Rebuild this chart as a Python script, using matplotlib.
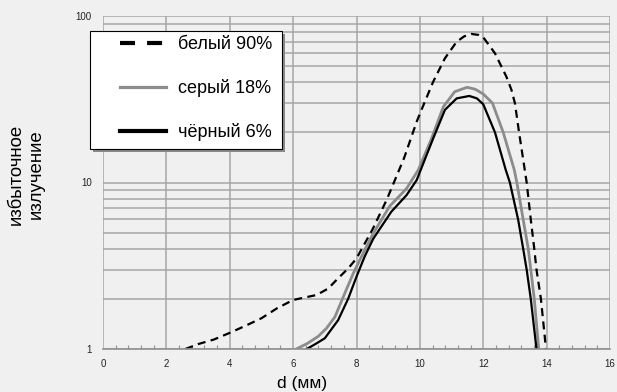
import numpy as np
import matplotlib.pyplot as plt
from matplotlib.lines import Line2D
from matplotlib.patches import Rectangle
from matplotlib.ticker import FixedLocator, NullFormatter, MultipleLocator

# excess radiation vs. distance d, for three surface reflectances
x_white = [2.6, 3.0, 3.5, 4.0, 4.5, 5.0, 5.5, 6.0, 6.37, 6.74, 7.11, 7.42, 7.74, 8.0,
           8.5, 8.95, 9.5, 9.9, 10.05, 10.42, 10.79, 11.16, 11.4, 11.63, 11.85, 12.0,
           12.37, 12.73, 12.89, 13.0, 13.13, 13.31, 13.37, 13.5, 13.61, 13.68, 13.82, 13.98]
y_white = [1.0, 1.07, 1.14, 1.25, 1.38, 1.53, 1.76, 1.97, 2.04, 2.11, 2.31, 2.66, 3.05, 3.5,
           5.2, 7.85, 14.0, 23.2, 27.3, 40.3, 55.7, 70.0, 75.5, 78.0, 77.0, 74.5,
           59.7, 43.2, 36.0, 29.9, 20.0, 11.9, 10.0, 6.0, 4.0, 3.0, 2.0, 1.0]

x_gray = [6.1, 6.45, 6.79, 7.05, 7.32, 7.63, 7.9, 8.16, 8.53, 9.05, 9.58, 9.95, 10.37,
          10.74, 11.1, 11.49, 11.75, 12.0, 12.29, 12.63, 12.98, 13.06, 13.26, 13.42,
          13.5, 13.61, 13.75]
y_gray = [1.0, 1.08, 1.19, 1.33, 1.56, 2.16, 2.85, 3.6, 4.95, 7.22, 9.2, 11.9, 18.4,
          28.5, 35.1, 37.3, 36.3, 34.0, 30.0, 20.0, 11.9, 10.0, 6.0, 4.0,
          3.0, 2.0, 1.0]

x_black = [6.43, 6.7, 7.0, 7.42, 7.74, 8.0, 8.26, 8.53, 9.1, 9.58, 9.9, 10.42, 10.79,
           11.16, 11.56, 11.8, 12.0, 12.37, 12.71, 12.84, 13.1, 13.26, 13.37, 13.5, 13.68]
y_black = [1.0, 1.07, 1.16, 1.49, 2.01, 2.72, 3.6, 4.6, 6.68, 8.4, 10.35, 18.4, 27.3,
           32.0, 33.1, 32.0, 29.5, 20.0, 11.9, 10.0, 6.0, 4.0, 3.0, 2.0, 1.0]

labels = ['белый 90%', 'серый 18%', 'чёрный 6%']

bg = '#f0f0f0'
grid_c = '#a6a6a6'
gray_c = '#8c8c8c'
W, H = 617, 392

plt.rcParams['font.family'] = ['Liberation Sans', 'DejaVu Sans']

fig = plt.figure(figsize=(W / 100, H / 100), dpi=100, facecolor=bg)
ax = fig.add_axes([103 / W, 1 - 349 / H, 507 / W, 333 / H], facecolor=bg)

ax.plot(x_white, y_white, color='black', lw=1.6, dashes=(3.6, 2.4))
ax.plot(x_gray, y_gray, color=gray_c, lw=2.0)
ax.plot(x_black, y_black, color='black', lw=1.6)

ax.set_yscale('log')
ax.set_xlim(0, 16)
ax.set_ylim(1, 100)

# grid on every decade subdivision and every 2 mm
ax.xaxis.set_major_locator(MultipleLocator(2))
ax.xaxis.set_minor_locator(MultipleLocator(0.4))
ax.yaxis.set_major_locator(FixedLocator([1, 10, 100]))
ax.yaxis.set_minor_locator(FixedLocator([k * 10 ** d for d in range(2) for k in range(2, 10)]))
ax.yaxis.set_minor_formatter(NullFormatter())
ax.set_yticklabels(['1', '10', '100'])
ax.grid(True, which='major', axis='both', color=grid_c, lw=1.1)
ax.grid(True, which='minor', axis='y', color=grid_c, lw=1.1)
ax.set_axisbelow(True)

for side in ['top', 'right', 'left']:
    ax.spines[side].set_visible(False)
ax.spines['bottom'].set_color('#909090')
ax.spines['bottom'].set_linewidth(1.2)

ax.tick_params(axis='x', which='major', length=0, labelsize=7, pad=7, labelcolor='#222222')
ax.tick_params(axis='x', which='minor', direction='in', length=3, color='#909090', width=0.8)
ax.tick_params(axis='y', which='both', length=0, labelsize=7, pad=8, labelcolor='#222222')

fig.text(302 / W, 1 - 388 / H, 'd (мм)', fontsize=12.5, ha='center', va='baseline')

# y label: two lines, sized so the longer line spans about 102 px
ylab = fig.text(26 / W, 1 - 174 / H, 'избыточное\nизлучение', rotation=90, fontsize=12.5,
                ha='center', va='center', linespacing=1.2)
probe = fig.text(0, 0, 'избыточное', fontsize=12.5)
span = probe.get_window_extent(renderer=fig.canvas.get_renderer()).width
probe.remove()
ylab.set_fontsize(12.5 * 102 / span)

# legend box with drop shadow, drawn in figure pixels
bx0, by0, bx1, by1 = 90, 31, 282, 149
shadow = Rectangle((bx0 + 3, H - by1 - 3), bx1 - bx0, by1 - by0,
                   transform=None, facecolor='#8a8a8a', edgecolor='none', zorder=2)
box = Rectangle((bx0, H - by1), bx1 - bx0, by1 - by0, transform=None,
                facecolor='white', edgecolor='black', lw=0.8, zorder=3)
fig.add_artist(shadow)
fig.add_artist(box)

handles = [Line2D([], [], color='black', lw=3.0, dashes=(3.6, 2.9)),
           Line2D([], [], color=gray_c, lw=2.3),
           Line2D([], [], color='black', lw=3.0)]
leg = fig.legend(handles, labels, loc='upper left', bbox_to_anchor=(120 / W, 1 - 36 / H),
                 fontsize=13, frameon=False, borderpad=0, labelspacing=1.44,
                 handlelength=2.55, handletextpad=0.65, borderaxespad=0)
leg.set_zorder(5)

fig.savefig('out.png', dpi=100, facecolor=bg)
